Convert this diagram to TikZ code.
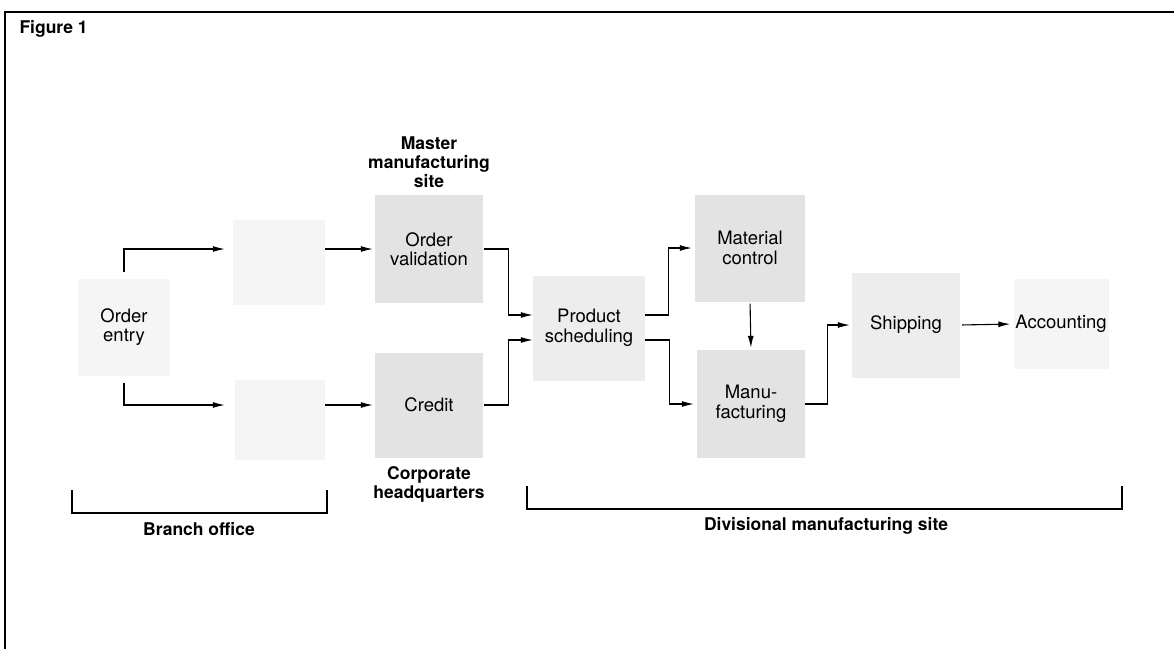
\documentclass[tikz,border=0pt]{standalone}
\usepackage{fontspec}
\setmainfont{TeX Gyre Heros}
\usetikzlibrary{arrows.meta}
\begin{document}
\begin{tikzpicture}[x=1pt,y=-1pt,
  proc/.style={inner sep=0pt,align=center,font=\fontsize{18.5}{19.5}\selectfont,text=black},
  dark/.style={proc,fill=black!11},
  mid/.style={proc,fill=black!7},
  pale/.style={proc,fill=black!4},
  lbl/.style={align=center,font=\fontsize{17.5}{19}\selectfont\bfseries},
  arr/.style={line width=1.1pt,-{Latex[length=12pt,width=6pt]}},
  ln/.style={line width=1.1pt}]
\useasboundingbox (0,0) rectangle (1174,649);
% frame
\draw[ln] (5,649) -- (5,12) -- (1174,12);
\node[lbl,anchor=west] (fig) at (16,29) {Figure 1};
% boxes
\node[pale,minimum width=92pt,minimum height=97pt] (entry) at (124,327) {Order\\entry};
\node[pale,minimum width=92pt,minimum height=85pt] (blank1) at (279,262) {};
\node[pale,minimum width=90pt,minimum height=80pt] (blank2) at (280,420) {};
\node[dark,minimum width=108pt,minimum height=108pt] (valid) at (429,249) {Order\\validation};
\node[dark,minimum width=108pt,minimum height=105pt] (credit) at (429,405) {Credit};
\node[mid,minimum width=112pt,minimum height=105pt] (sched) at (589,328) {Product\\scheduling};
\node[dark,minimum width=110pt,minimum height=107pt] (matctl) at (750,248) {Material\\control};
\node[dark,minimum width=108pt,minimum height=108pt] (manu) at (751,404) {Manu-\\facturing};
\node[mid,minimum width=108pt,minimum height=105pt] (ship) at (906,325) {Shipping};
\node[pale,minimum width=95pt,minimum height=90pt] (acct) at (1061,324) {Accounting};
% group labels
\node[lbl] (master) at (429,162) {Master\\manufacturing\\site};
\node[lbl] (corp) at (429,484) {Corporate\\headquarters};
% connectors
\draw[arr,shorten >=8pt] ([yshift=6pt]entry.north) |- (blank1.west |- valid.west);
\draw[arr,shorten >=10pt] ([yshift=-7pt]entry.south) |- (blank2.west |- credit.west);
\draw[arr,shorten >=2pt] (blank1.east |- valid.west) -- (valid.west);
\draw[arr,shorten >=2pt] (blank2.east |- credit.west) -- (credit.west);
\draw[arr] ([xshift=1pt]valid.east) -- ++(24,0) |- ([yshift=13pt]sched.west);
\draw[arr] ([xshift=1pt]credit.east) -- ++(24,0) |- ([yshift=-12pt]sched.west);
\draw[arr,shorten >=3pt] ([yshift=13pt]sched.east) -- ++(23,0) |- (matctl.west);
\draw[arr,shorten >=3pt] ([yshift=-12pt]sched.east) -- ++(24,0) |- (manu.west);
\draw[arr,shorten <=2pt,shorten >=2pt] (matctl.south) -- (manu.north);
\draw[arr,shorten >=2pt] (manu.east) -- ++(22,0) |- (ship.west);
\draw[arr,shorten <=2pt,shorten >=3pt] (ship.east) -- (acct.west);
% brackets
\coordinate (b1a) at (72,490);
\coordinate (b1b) at (327,490);
\draw[ln] (b1a) -- ++(0,23) -| (b1b);
\node[lbl] (branch) at (199,529) {Branch office};
\coordinate (b2a) at (527,486);
\coordinate (b2b) at (1122,486);
\draw[ln] (b2a) -- ++(0,23) -| (b2b);
\node[lbl] (div) at (826,526) {Divisional manufacturing site};
\end{tikzpicture}
\end{document}
